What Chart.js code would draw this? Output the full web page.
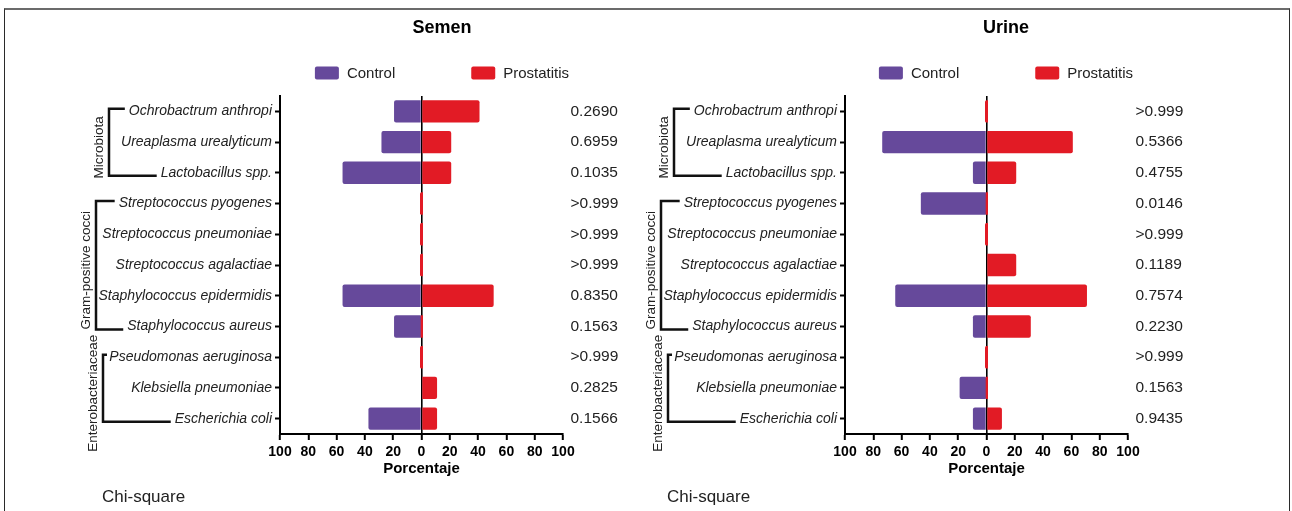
<!DOCTYPE html>
<html>
<head>
<meta charset="utf-8">
<script src="https://cdn.jsdelivr.net/npm/chart.js@4.4.1/dist/chart.umd.min.js"></script>
<style>
html,body{margin:0;padding:0;background:#fff;width:1292px;height:511px;overflow:hidden;position:relative;}
#frame{position:absolute;left:4px;top:8px;width:1286px;height:600px;box-sizing:border-box;border-top:2px solid #6b6b6b;border-left:1.5px solid #2a2a2a;border-right:1.5px solid #2a2a2a;}
canvas{position:absolute;top:0;}
#c1{left:0;}
#c2{left:600px;}
</style>
</head>
<body>
<div id="frame"></div>
<canvas id="c1" width="798" height="511"></canvas>
<canvas id="c2" width="756" height="511"></canvas>
<script>
// ---------------- data ----------------
const categories = [
  'Ochrobactrum anthropi', 'Ureaplasma urealyticum', 'Lactobacillus spp.',
  'Streptococcus pyogenes', 'Streptococcus pneumoniae', 'Streptococcus agalactiae',
  'Staphylococcus epidermidis', 'Staphylococcus aureus',
  'Pseudomonas aeruginosa', 'Klebsiella pneumoniae', 'Escherichia coli'
];
const seriesNames = ['Control', 'Prostatitis'];
const panelTitles = ['Semen', 'Urine'];

const semenControl     = [19.4, 28.3, 55.8, 0, 0, 0, 55.8, 19.4, 0, 0, 37.5];
const semenProstatitis = [41, 21, 21, 0, 0, 0, 51, 0, 0, 11, 11];
const semenP = ['0.2690', '0.6959', '0.1035', '>0.999', '>0.999', '>0.999', '0.8350', '0.1563', '>0.999', '0.2825', '0.1566'];

const urineControl     = [0, 73.7, 9.6, 46.4, 0, 0, 64.5, 9.6, 0, 19, 9.6];
const urineProstatitis = [0, 61, 21, 0, 0, 21, 71, 31.3, 0, 0, 10.9];
const urineP = ['>0.999', '0.5366', '0.4755', '0.0146', '>0.999', '0.1189', '0.7574', '0.2230', '>0.999', '0.1563', '0.9435'];

const xTicks = [-100, -80, -60, -40, -20, 0, 20, 40, 60, 80, 100];
const xTitle = 'Porcentaje';
const footnote = 'Chi-square';
const groupNames = ['Microbiota', 'Gram-positive cocci', 'Enterobacteriaceae'];
const groupFrom = [0, 3, 8];
const groupTo = [2, 7, 10];

// ---------------- style / layout ----------------
const FONT = "'Liberation Sans', Arial, Helvetica, sans-serif";
const PURPLE = '#66499b';
const RED = '#e21b25';
const bracketOffsets = [171, 184, 177];
Chart.defaults.font.family = FONT;
Chart.defaults.color = '#222';

const decor = {
  id: 'decor',
  afterDraw(chart) {
    const {ctx, chartArea, scales} = chart;
    const y = scales.y;
    const axisX = chartArea.left;
    ctx.save();
    // legend
    ctx.font = '15px ' + FONT;
    const items = chart.data.datasets.map(d => ({text: d.label, color: d.backgroundColor, w: 24 + 8 + ctx.measureText(d.label).width}));
    const gap = 76;
    const total = items.reduce((a, it) => a + it.w, 0) + gap * (items.length - 1);
    const tb = chart.titleBlock;
    const cx = (tb.left + tb.right) / 2;
    let x = cx - total / 2;
    const ly = 73;
    items.forEach(it => {
      ctx.fillStyle = it.color;
      ctx.beginPath();
      if (ctx.roundRect) ctx.roundRect(x, ly - 6.5, 24, 13, 2); else ctx.rect(x, ly - 6.5, 24, 13);
      ctx.fill();
      ctx.fillStyle = '#222';
      ctx.textBaseline = 'middle';
      ctx.textAlign = 'left';
      ctx.fillText(it.text, x + 32, ly + 0.5);
      x += it.w + gap;
    });
    // group brackets
    const labelRight = y.right - 5 - 3;
    groupNames.forEach((name, g) => {
      const xv = axisX - bracketOffsets[g];
      const y1 = y.getPixelForValue(groupFrom[g]) - 2.5;
      const y2 = y.getPixelForValue(groupTo[g]) + 3;
      ctx.font = 'italic 14px ' + FONT;
      const lt = labelRight - ctx.measureText(categories[groupFrom[g]]).width;
      const lb = labelRight - ctx.measureText(categories[groupTo[g]]).width;
      const xt = Math.max(lt - 4, xv + 4);
      const xb = Math.max(lb - 4, xv + 4);
      ctx.strokeStyle = '#111';
      ctx.lineWidth = 2.5;
      ctx.lineJoin = 'miter';
      ctx.beginPath();
      ctx.moveTo(xt, y1);
      ctx.lineTo(xv, y1);
      ctx.lineTo(xv, y2);
      ctx.lineTo(xb, y2);
      ctx.stroke();
      ctx.save();
      ctx.translate(xv - 9.5, (y1 + y2) / 2 + 5);
      ctx.rotate(-Math.PI / 2);
      ctx.font = '13.5px ' + FONT;
      ctx.fillStyle = '#222';
      ctx.textAlign = 'center';
      ctx.textBaseline = 'middle';
      ctx.fillText(name, 0, 0);
      ctx.restore();
    });
    // footnote
    ctx.font = '17px ' + FONT;
    ctx.fillStyle = '#222';
    ctx.textAlign = 'left';
    ctx.textBaseline = 'middle';
    ctx.fillText(footnote, axisX - 178, 497);
    ctx.restore();
  }
};

function makeChart(id, title, ctrl, prost, pvals, lay) {
  return new Chart(document.getElementById(id), {
    type: 'bar',
    data: {
      labels: categories,
      datasets: [
        {label: seriesNames[0], data: ctrl.map(v => -v), backgroundColor: PURPLE, borderRadius: 2, barPercentage: 0.73, categoryPercentage: 1, grouped: false},
        {label: seriesNames[1], data: prost, backgroundColor: RED, borderRadius: 2, barPercentage: 0.73, categoryPercentage: 1, minBarLength: 3, grouped: false}
      ]
    },
    options: {
      indexAxis: 'y',
      responsive: false,
      animation: false,
      layout: {padding: {left: lay.padLeft, right: 0, top: 0, bottom: 33}},
      plugins: {
        legend: {display: false},
        tooltip: {enabled: false},
        title: {display: true, text: title, color: '#000', font: {size: 18, weight: 'bold'}, padding: {top: 17, bottom: 57.4}}
      },
      scales: {
        x: {
          type: 'linear', min: xTicks[0], max: xTicks[xTicks.length - 1], z: 1,
          afterBuildTicks: s => { s.ticks = xTicks.map(v => ({value: v})); },
          ticks: {callback: v => Math.abs(v), color: '#000', font: {size: 14, weight: 'bold'}, padding: 4, maxRotation: 0, autoSkip: false},
          grid: {drawOnChartArea: true, color: c => (c.tick && c.tick.value === 0) ? '#000' : 'rgba(0,0,0,0)', lineWidth: 1.6, tickColor: '#000', tickWidth: 2, tickLength: 6},
          border: {display: true, color: '#000', width: 2},
          title: {display: true, text: xTitle, color: '#000', font: {size: 15, weight: 'bold'}, padding: {top: 0, bottom: 0}},
          afterFit: s => { s.height = 44; }
        },
        y: {
          offset: true,
          ticks: {color: '#222', font: {size: 14, style: 'italic'}, padding: 3, autoSkip: false},
          grid: {display: true, drawOnChartArea: false, drawTicks: true, tickLength: 5, tickWidth: 2, tickColor: '#000', color: '#000', offset: false},
          border: {display: true, color: '#000', width: 2},
          afterFit: s => { s.width = lay.leftW; }
        },
        y2: {
          type: 'category', position: 'right', labels: pvals, offset: true,
          grid: {display: false, drawTicks: false},
          border: {display: false},
          ticks: {color: '#222', font: {size: 15.5}, padding: 7.5, autoSkip: false},
          afterFit: s => { s.width = lay.rightW; }
        }
      }
    },
    plugins: [decor]
  });
}

makeChart('c1', panelTitles[0], semenControl, semenProstatitis, semenP, {padLeft: 86, leftW: 194, rightW: 235});
makeChart('c2', panelTitles[1], urineControl, urineProstatitis, urineP, {padLeft: 56, leftW: 189, rightW: 228});
</script>
</body>
</html>
